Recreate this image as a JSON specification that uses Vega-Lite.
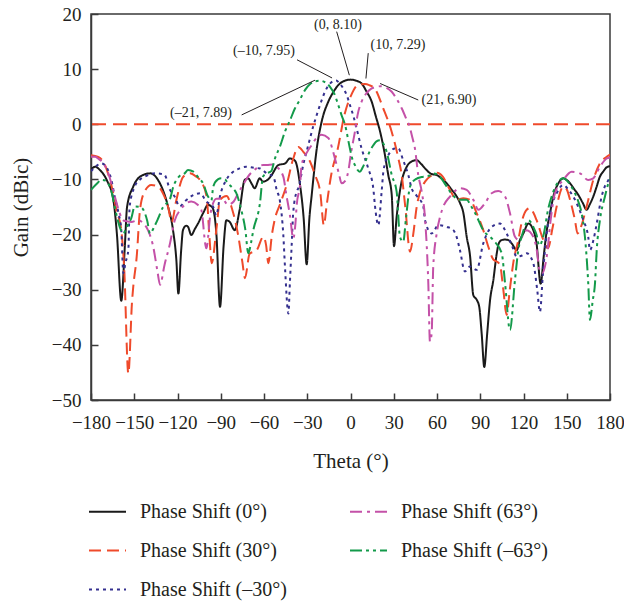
{
  "$schema": "https://vega.github.io/schema/vega-lite/v6.json",
  "width": 519,
  "height": 386,
  "autosize": {"type": "none"},
  "padding": {"left": 91, "top": 14, "right": 14, "bottom": 206},
  "background": "white",
  "config": {
    "view": {"stroke": "#3a3a3a", "strokeWidth": 1.5},
    "axis": {
      "grid": false,
      "domainColor": "#3a3a3a",
      "domainWidth": 1.5,
      "tickColor": "#3a3a3a",
      "tickWidth": 1.5,
      "tickSize": -7,
      "labelFont": "Liberation Serif",
      "labelFontSize": 19,
      "labelColor": "#231f20",
      "titleFont": "Liberation Serif",
      "titleFontSize": 21,
      "titleFontWeight": "normal",
      "titleColor": "#231f20"
    },
    "legend": {
      "labelFont": "Liberation Serif",
      "labelFontSize": 20,
      "labelColor": "#231f20"
    }
  },
  "datasets": {
    "curves": [
      {"s":"0","t":-180,"g":-8.2},{"s":"0","t":-177,"g":-7.7},{"s":"0","t":-173.8,"g":-8.3},{"s":"0","t":-169.1,"g":-10.1},{"s":"0","t":-164.5,"g":-13.7},{"s":"0","t":-162,"g":-20},{"s":"0","t":-159,"g":-32},{"s":"0","t":-156.5,"g":-22},{"s":"0","t":-155,"g":-15},{"s":"0","t":-150.7,"g":-11.3},{"s":"0","t":-146,"g":-9.5},{"s":"0","t":-139,"g":-8.9},{"s":"0","t":-133.5,"g":-10.1},{"s":"0","t":-126.6,"g":-14.9},{"s":"0","t":-123.1,"g":-19.2},{"s":"0","t":-120.8,"g":-24.6},{"s":"0","t":-119.4,"g":-30.7},{"s":"0","t":-117.5,"g":-23},{"s":"0","t":-116.2,"g":-19.2},{"s":"0","t":-114,"g":-18.4},{"s":"0","t":-112.7,"g":-18.6},{"s":"0","t":-110.4,"g":-20.1},{"s":"0","t":-108,"g":-19},{"s":"0","t":-105.8,"g":-18},{"s":"0","t":-102,"g":-16},{"s":"0","t":-98.8,"g":-14.6},{"s":"0","t":-97,"g":-14.8},{"s":"0","t":-95.4,"g":-15.3},{"s":"0","t":-93,"g":-20},{"s":"0","t":-90.5,"g":-33.1},{"s":"0","t":-88,"g":-22},{"s":"0","t":-86.1,"g":-17.4},{"s":"0","t":-83.8,"g":-17.7},{"s":"0","t":-80.3,"g":-19.2},{"s":"0","t":-76.9,"g":-15.5},{"s":"0","t":-73.4,"g":-10.1},{"s":"0","t":-71.1,"g":-9.8},{"s":"0","t":-68.5,"g":-10.8},{"s":"0","t":-66.5,"g":-11.6},{"s":"0","t":-63,"g":-9.8},{"s":"0","t":-60.7,"g":-10.4},{"s":"0","t":-57.2,"g":-10},{"s":"0","t":-54.7,"g":-9.2},{"s":"0","t":-50.1,"g":-7.4},{"s":"0","t":-45.4,"g":-7.1},{"s":"0","t":-42,"g":-6.2},{"s":"0","t":-38.5,"g":-6.6},{"s":"0","t":-35,"g":-11},{"s":"0","t":-32.5,"g":-17},{"s":"0","t":-30.4,"g":-25.4},{"s":"0","t":-28.5,"g":-17},{"s":"0","t":-26.9,"g":-12.8},{"s":"0","t":-23.4,"g":-4.4},{"s":"0","t":-20,"g":0.5},{"s":"0","t":-15.4,"g":4.1},{"s":"0","t":-12,"g":5.8},{"s":"0","t":-8.5,"g":7.1},{"s":"0","t":-4,"g":7.9},{"s":"0","t":0,"g":8.1},{"s":"0","t":4,"g":7.9},{"s":"0","t":7.7,"g":7.4},{"s":"0","t":11,"g":6.0},{"s":"0","t":14.7,"g":4.1},{"s":"0","t":17.5,"g":1.5},{"s":"0","t":20.5,"g":-1.3},{"s":"0","t":23.5,"g":-5},{"s":"0","t":26.2,"g":-9.2},{"s":"0","t":28.6,"g":-12.8},{"s":"0","t":30.2,"g":-22.1},{"s":"0","t":32,"g":-16.8},{"s":"0","t":35,"g":-11},{"s":"0","t":39,"g":-7.7},{"s":"0","t":42,"g":-6.8},{"s":"0","t":45.9,"g":-6.5},{"s":"0","t":49,"g":-7.2},{"s":"0","t":52.8,"g":-8.3},{"s":"0","t":56,"g":-9},{"s":"0","t":59.8,"g":-9.2},{"s":"0","t":63,"g":-9.8},{"s":"0","t":66.7,"g":-10.7},{"s":"0","t":70,"g":-11.8},{"s":"0","t":73.7,"g":-13.1},{"s":"0","t":76,"g":-14.3},{"s":"0","t":78.3,"g":-16.1},{"s":"0","t":80.6,"g":-20.4},{"s":"0","t":82.9,"g":-23.8},{"s":"0","t":85.2,"g":-31},{"s":"0","t":87.5,"g":-31.8},{"s":"0","t":89.3,"g":-33.1},{"s":"0","t":91,"g":-38},{"s":"0","t":92.8,"g":-44},{"s":"0","t":94.8,"g":-38},{"s":"0","t":96.8,"g":-31.9},{"s":"0","t":99.1,"g":-28.2},{"s":"0","t":101.4,"g":-23.5},{"s":"0","t":103,"g":-21.5},{"s":"0","t":104.9,"g":-21},{"s":"0","t":107,"g":-20.9},{"s":"0","t":109.5,"g":-21},{"s":"0","t":111.8,"g":-21.6},{"s":"0","t":115.3,"g":-22.8},{"s":"0","t":117.5,"g":-21},{"s":"0","t":119.9,"g":-19.8},{"s":"0","t":123.4,"g":-18},{"s":"0","t":126.8,"g":-19.2},{"s":"0","t":129,"g":-21.5},{"s":"0","t":131.9,"g":-28.9},{"s":"0","t":134,"g":-24},{"s":"0","t":136,"g":-19.5},{"s":"0","t":138.4,"g":-16.1},{"s":"0","t":141,"g":-12.8},{"s":"0","t":144.2,"g":-10.7},{"s":"0","t":147.6,"g":-9.8},{"s":"0","t":150,"g":-10.1},{"s":"0","t":152.3,"g":-10.7},{"s":"0","t":155,"g":-11.7},{"s":"0","t":158,"g":-12.8},{"s":"0","t":161,"g":-14.2},{"s":"0","t":163.8,"g":-15.5},{"s":"0","t":166,"g":-14.5},{"s":"0","t":168.4,"g":-13.1},{"s":"0","t":170.5,"g":-11.5},{"s":"0","t":173,"g":-9.5},{"s":"0","t":175.5,"g":-8.5},{"s":"0","t":177.7,"g":-7.8},{"s":"0","t":180,"g":-7.6},

      {"s":"30","t":-180,"g":-5.6},{"s":"30","t":-175,"g":-5.9},{"s":"30","t":-171,"g":-7},{"s":"30","t":-168.2,"g":-8.9},{"s":"30","t":-165,"g":-12},{"s":"30","t":-162.4,"g":-15.5},{"s":"30","t":-159,"g":-19.2},{"s":"30","t":-157,"g":-26},{"s":"30","t":-154.1,"g":-45.2},{"s":"30","t":-151.5,"g":-32},{"s":"30","t":-150.7,"g":-29.5},{"s":"30","t":-148.3,"g":-24},{"s":"30","t":-146,"g":-15.5},{"s":"30","t":-142.8,"g":-12.2},{"s":"30","t":-138.2,"g":-11},{"s":"30","t":-133.5,"g":-11.3},{"s":"30","t":-130.1,"g":-12.5},{"s":"30","t":-126.6,"g":-14.9},{"s":"30","t":-124,"g":-17.7},{"s":"30","t":-121,"g":-14},{"s":"30","t":-116,"g":-9.5},{"s":"30","t":-111.3,"g":-8.9},{"s":"30","t":-107,"g":-9.5},{"s":"30","t":-104.4,"g":-10.1},{"s":"30","t":-99.8,"g":-13.1},{"s":"30","t":-97.7,"g":-21},{"s":"30","t":-96.3,"g":-25.2},{"s":"30","t":-93,"g":-19},{"s":"30","t":-90.5,"g":-13.7},{"s":"30","t":-86,"g":-13},{"s":"30","t":-82,"g":-15.5},{"s":"30","t":-78,"g":-20},{"s":"30","t":-75,"g":-25},{"s":"30","t":-73.2,"g":-27.9},{"s":"30","t":-70,"g":-23.5},{"s":"30","t":-65,"g":-22.8},{"s":"30","t":-60.5,"g":-20.4},{"s":"30","t":-58.5,"g":-22},{"s":"30","t":-57,"g":-25.2},{"s":"30","t":-54.5,"g":-20},{"s":"30","t":-52.4,"g":-17.1},{"s":"30","t":-48.9,"g":-14.5},{"s":"30","t":-44.3,"g":-11},{"s":"30","t":-39.7,"g":-6.2},{"s":"30","t":-36.2,"g":-4.1},{"s":"30","t":-32.7,"g":-5},{"s":"30","t":-28,"g":-6.8},{"s":"30","t":-24.6,"g":-9.2},{"s":"30","t":-21,"g":-12.3},{"s":"30","t":-18.5,"g":-18.3},{"s":"30","t":-16.5,"g":-14.6},{"s":"30","t":-13.4,"g":-9.2},{"s":"30","t":-8.8,"g":-4.4},{"s":"30","t":-4.2,"g":1.7},{"s":"30","t":0.5,"g":5.3},{"s":"30","t":5,"g":7.1},{"s":"30","t":10,"g":7.29},{"s":"30","t":13,"g":7.1},{"s":"30","t":16.7,"g":6.5},{"s":"30","t":22.7,"g":2.9},{"s":"30","t":28.5,"g":-1.3},{"s":"30","t":33.2,"g":-6.2},{"s":"30","t":35.5,"g":-9.2},{"s":"30","t":38,"g":-15},{"s":"30","t":41.3,"g":-23.1},{"s":"30","t":43.6,"g":-19.8},{"s":"30","t":45.9,"g":-15},{"s":"30","t":48,"g":-12.5},{"s":"30","t":52,"g":-10.3},{"s":"30","t":56,"g":-9.3},{"s":"30","t":60,"g":-8.8},{"s":"30","t":64,"g":-9.5},{"s":"30","t":69,"g":-11.9},{"s":"30","t":73.7,"g":-13.7},{"s":"30","t":78.3,"g":-13.4},{"s":"30","t":82.9,"g":-13.7},{"s":"30","t":87.5,"g":-16.1},{"s":"30","t":92.1,"g":-19.2},{"s":"30","t":95.6,"g":-22.2},{"s":"30","t":99,"g":-24.5},{"s":"30","t":101.4,"g":-24.9},{"s":"30","t":103.7,"g":-25.5},{"s":"30","t":106,"g":-30},{"s":"30","t":108.3,"g":-34.6},{"s":"30","t":110.5,"g":-30},{"s":"30","t":113,"g":-25},{"s":"30","t":116.4,"g":-21},{"s":"30","t":119,"g":-17.5},{"s":"30","t":122.2,"g":-15.5},{"s":"30","t":124.5,"g":-15.2},{"s":"30","t":126.8,"g":-16},{"s":"30","t":129.1,"g":-17.4},{"s":"30","t":133.8,"g":-21},{"s":"30","t":137,"g":-22.5},{"s":"30","t":140,"g":-19},{"s":"30","t":143,"g":-14.9},{"s":"30","t":147.6,"g":-11.3},{"s":"30","t":150,"g":-11.8},{"s":"30","t":152.3,"g":-13.7},{"s":"30","t":155.7,"g":-17.4},{"s":"30","t":157.5,"g":-19.8},{"s":"30","t":160,"g":-18.5},{"s":"30","t":163.8,"g":-14.9},{"s":"30","t":168.4,"g":-10.1},{"s":"30","t":173,"g":-7.1},{"s":"30","t":177.7,"g":-5.9},{"s":"30","t":180,"g":-5.5},

      {"s":"-30","t":-180,"g":-8.5},{"s":"-30","t":-176,"g":-7.5},{"s":"-30","t":-172.9,"g":-7.1},{"s":"-30","t":-170,"g":-7.5},{"s":"-30","t":-168.2,"g":-8.3},{"s":"-30","t":-165.5,"g":-10.5},{"s":"-30","t":-163.6,"g":-13.1},{"s":"-30","t":-161,"g":-16},{"s":"-30","t":-159,"g":-19.2},{"s":"-30","t":-157.6,"g":-27},{"s":"-30","t":-156,"g":-25},{"s":"-30","t":-154.1,"g":-22.8},{"s":"-30","t":-153.2,"g":-14.9},{"s":"-30","t":-149.7,"g":-11.3},{"s":"-30","t":-146,"g":-10},{"s":"-30","t":-142.8,"g":-9.5},{"s":"-30","t":-135.8,"g":-8.9},{"s":"-30","t":-131,"g":-9},{"s":"-30","t":-128.9,"g":-9.2},{"s":"-30","t":-125.2,"g":-11.9},{"s":"-30","t":-122,"g":-13.1},{"s":"-30","t":-118.5,"g":-14.9},{"s":"-30","t":-115,"g":-14},{"s":"-30","t":-110,"g":-13},{"s":"-30","t":-104.4,"g":-12.5},{"s":"-30","t":-100,"g":-14},{"s":"-30","t":-95.4,"g":-14.9},{"s":"-30","t":-93.1,"g":-16.5},{"s":"-30","t":-90.5,"g":-13},{"s":"-30","t":-86,"g":-10},{"s":"-30","t":-82.7,"g":-8.9},{"s":"-30","t":-76.9,"g":-8},{"s":"-30","t":-72.3,"g":-7.7},{"s":"-30","t":-67,"g":-7.9},{"s":"-30","t":-62.8,"g":-8},{"s":"-30","t":-58.1,"g":-8.9},{"s":"-30","t":-53.5,"g":-9.5},{"s":"-30","t":-51.2,"g":-11.9},{"s":"-30","t":-48.9,"g":-14},{"s":"-30","t":-46.6,"g":-20.1},{"s":"-30","t":-45.4,"g":-26.1},{"s":"-30","t":-43.1,"g":-34.3},{"s":"-30","t":-42,"g":-28.5},{"s":"-30","t":-40.8,"g":-21.9},{"s":"-30","t":-39.7,"g":-15.9},{"s":"-30","t":-37.3,"g":-12.2},{"s":"-30","t":-36.2,"g":-11.6},{"s":"-30","t":-32.5,"g":-7},{"s":"-30","t":-29.3,"g":-3.8},{"s":"-30","t":-26,"g":-0.5},{"s":"-30","t":-23.4,"g":1.7},{"s":"-30","t":-20.5,"g":4},{"s":"-30","t":-17.7,"g":5.9},{"s":"-30","t":-14.5,"g":7.3},{"s":"-30","t":-10,"g":7.95},{"s":"-30","t":-7.5,"g":7.4},{"s":"-30","t":-5,"g":6.5},{"s":"-30","t":-2.5,"g":5.2},{"s":"-30","t":-0.4,"g":3.5},{"s":"-30","t":2,"g":1.5},{"s":"-30","t":4.2,"g":-0.7},{"s":"-30","t":7.7,"g":-4.4},{"s":"-30","t":12.3,"g":-8},{"s":"-30","t":15.8,"g":-11.6},{"s":"-30","t":16.9,"g":-14.6},{"s":"-30","t":19.3,"g":-18.3},{"s":"-30","t":21.6,"g":-12.2},{"s":"-30","t":22.8,"g":-8.6},{"s":"-30","t":26.2,"g":-5.6},{"s":"-30","t":30.9,"g":-4.4},{"s":"-30","t":33.2,"g":-4.4},{"s":"-30","t":36.5,"g":-6.5},{"s":"-30","t":40.1,"g":-9.2},{"s":"-30","t":42.4,"g":-11.6},{"s":"-30","t":46,"g":-13},{"s":"-30","t":50.5,"g":-14.9},{"s":"-30","t":51.7,"g":-17.4},{"s":"-30","t":56.3,"g":-19.8},{"s":"-30","t":61,"g":-18.3},{"s":"-30","t":66.7,"g":-18.6},{"s":"-30","t":71.3,"g":-19.2},{"s":"-30","t":73.7,"g":-20.5},{"s":"-30","t":75.9,"g":-22.8},{"s":"-30","t":79.4,"g":-26.7},{"s":"-30","t":82.9,"g":-25.8},{"s":"-30","t":87.5,"g":-26.4},{"s":"-30","t":92.1,"g":-21.6},{"s":"-30","t":97.9,"g":-18.6},{"s":"-30","t":103.7,"g":-18},{"s":"-30","t":108.3,"g":-19.8},{"s":"-30","t":112,"g":-22},{"s":"-30","t":115.3,"g":-24},{"s":"-30","t":119,"g":-23.8},{"s":"-30","t":122.2,"g":-23.4},{"s":"-30","t":126.8,"g":-25.2},{"s":"-30","t":129.5,"g":-30},{"s":"-30","t":131.4,"g":-34},{"s":"-30","t":133.5,"g":-27},{"s":"-30","t":136,"g":-20},{"s":"-30","t":139.5,"g":-14.9},{"s":"-30","t":143,"g":-12.5},{"s":"-30","t":147.6,"g":-11},{"s":"-30","t":151,"g":-11.8},{"s":"-30","t":154.5,"g":-13.1},{"s":"-30","t":158,"g":-15},{"s":"-30","t":161.5,"g":-17.4},{"s":"-30","t":164.9,"g":-20.4},{"s":"-30","t":166.1,"g":-22.8},{"s":"-30","t":168.5,"g":-21},{"s":"-30","t":170.8,"g":-18},{"s":"-30","t":174.2,"g":-13.1},{"s":"-30","t":176.5,"g":-11.2},{"s":"-30","t":178.9,"g":-10.1},{"s":"-30","t":180,"g":-9.5},

      {"s":"63","t":-180,"g":-5.9},{"s":"63","t":-177,"g":-5.9},{"s":"63","t":-175.1,"g":-6.2},{"s":"63","t":-172,"g":-6.9},{"s":"63","t":-169.4,"g":-8},{"s":"63","t":-167,"g":-9.7},{"s":"63","t":-164.7,"g":-11.9},{"s":"63","t":-162,"g":-14.5},{"s":"63","t":-160.1,"g":-16.1},{"s":"63","t":-157,"g":-17.5},{"s":"63","t":-152,"g":-17.7},{"s":"63","t":-147.4,"g":-17.4},{"s":"63","t":-143.5,"g":-18},{"s":"63","t":-140.5,"g":-19.2},{"s":"63","t":-137,"g":-22},{"s":"63","t":-134,"g":-26.5},{"s":"63","t":-132.1,"g":-29.1},{"s":"63","t":-129,"g":-25.5},{"s":"63","t":-125.2,"g":-21.6},{"s":"63","t":-122,"g":-17.5},{"s":"63","t":-118,"g":-15.5},{"s":"63","t":-115,"g":-14.6},{"s":"63","t":-110.4,"g":-14},{"s":"63","t":-106,"g":-14.6},{"s":"63","t":-103.5,"g":-15.5},{"s":"63","t":-100,"g":-22.5},{"s":"63","t":-97,"g":-16},{"s":"63","t":-93,"g":-13.5},{"s":"63","t":-89,"g":-13.5},{"s":"63","t":-85,"g":-14.6},{"s":"63","t":-81,"g":-14},{"s":"63","t":-78,"g":-12.5},{"s":"63","t":-74.5,"g":-11},{"s":"63","t":-71.1,"g":-9.5},{"s":"63","t":-65.3,"g":-8},{"s":"63","t":-60.7,"g":-7.4},{"s":"63","t":-58.1,"g":-7.4},{"s":"63","t":-54,"g":-7.3},{"s":"63","t":-51.2,"g":-7.7},{"s":"63","t":-46.6,"g":-9.5},{"s":"63","t":-44.5,"g":-12.8},{"s":"63","t":-42,"g":-16.5},{"s":"63","t":-39.7,"g":-20.7},{"s":"63","t":-38.2,"g":-18},{"s":"63","t":-37.3,"g":-14.6},{"s":"63","t":-35,"g":-11},{"s":"63","t":-33.9,"g":-7.4},{"s":"63","t":-30,"g":-5},{"s":"63","t":-27,"g":-3.8},{"s":"63","t":-23,"g":-2.3},{"s":"63","t":-20,"g":-1.9},{"s":"63","t":-15.4,"g":-2.5},{"s":"63","t":-10.8,"g":-6.2},{"s":"63","t":-8,"g":-9},{"s":"63","t":-6.2,"g":-10.7},{"s":"63","t":-3.5,"g":-10.2},{"s":"63","t":-1.6,"g":-8.6},{"s":"63","t":0.5,"g":-5},{"s":"63","t":3.1,"g":-1.3},{"s":"63","t":5,"g":1.8},{"s":"63","t":7.7,"g":4.1},{"s":"63","t":11,"g":5.6},{"s":"63","t":14.7,"g":6.5},{"s":"63","t":18,"g":6.8},{"s":"63","t":21,"g":6.9},{"s":"63","t":25,"g":6.6},{"s":"63","t":28.6,"g":5.9},{"s":"63","t":32,"g":4.6},{"s":"63","t":35.5,"g":2.9},{"s":"63","t":38.5,"g":1.1},{"s":"63","t":41.3,"g":-0.7},{"s":"63","t":43,"g":-2.5},{"s":"63","t":44.7,"g":-4.4},{"s":"63","t":47,"g":-9.2},{"s":"63","t":49.4,"g":-12.2},{"s":"63","t":51.7,"g":-17.1},{"s":"63","t":54,"g":-29.1},{"s":"63","t":55.1,"g":-39.4},{"s":"63","t":56.3,"g":-37.9},{"s":"63","t":57.4,"g":-25.8},{"s":"63","t":59.8,"g":-19.8},{"s":"63","t":62.1,"g":-16.8},{"s":"63","t":64.4,"g":-14.9},{"s":"63","t":69,"g":-13.1},{"s":"63","t":72,"g":-12.2},{"s":"63","t":75.9,"g":-11.6},{"s":"63","t":80.6,"g":-11.9},{"s":"63","t":85.2,"g":-13.7},{"s":"63","t":88.7,"g":-15.5},{"s":"63","t":93.3,"g":-14.3},{"s":"63","t":97.9,"g":-12.5},{"s":"63","t":102.5,"g":-12.1},{"s":"63","t":107.2,"g":-13.1},{"s":"63","t":110.6,"g":-16.1},{"s":"63","t":114.1,"g":-20.4},{"s":"63","t":117,"g":-21},{"s":"63","t":122.2,"g":-19.2},{"s":"63","t":126.8,"g":-20.4},{"s":"63","t":129,"g":-22.5},{"s":"63","t":131.4,"g":-26.7},{"s":"63","t":133,"g":-27},{"s":"63","t":136.1,"g":-24},{"s":"63","t":139,"g":-17},{"s":"63","t":141.8,"g":-12.5},{"s":"63","t":147.6,"g":-10.1},{"s":"63","t":153.4,"g":-8.6},{"s":"63","t":159.2,"g":-8.9},{"s":"63","t":164.9,"g":-10.1},{"s":"63","t":168.4,"g":-9.8},{"s":"63","t":173,"g":-7.7},{"s":"63","t":177.7,"g":-6.2},{"s":"63","t":180,"g":-6},

      {"s":"-63","t":-180,"g":-11.9},{"s":"-63","t":-176,"g":-10.8},{"s":"-63","t":-172.9,"g":-10.1},{"s":"-63","t":-170,"g":-10.2},{"s":"-63","t":-168.2,"g":-10.7},{"s":"-63","t":-165.5,"g":-12.5},{"s":"-63","t":-163.6,"g":-14.9},{"s":"-63","t":-160.1,"g":-18.6},{"s":"-63","t":-157.6,"g":-19.8},{"s":"-63","t":-155,"g":-18.5},{"s":"-63","t":-152,"g":-17},{"s":"-63","t":-149.7,"g":-14.9},{"s":"-63","t":-146,"g":-15},{"s":"-63","t":-143.7,"g":-15.5},{"s":"-63","t":-141,"g":-17.5},{"s":"-63","t":-139.1,"g":-19.8},{"s":"-63","t":-136,"g":-18.5},{"s":"-63","t":-133.3,"g":-17},{"s":"-63","t":-130,"g":-15},{"s":"-63","t":-127.5,"g":-14.3},{"s":"-63","t":-125.4,"g":-13.7},{"s":"-63","t":-122.9,"g":-11.3},{"s":"-63","t":-119,"g":-9.5},{"s":"-63","t":-115,"g":-8.9},{"s":"-63","t":-112.7,"g":-8.3},{"s":"-63","t":-109,"g":-8.6},{"s":"-63","t":-106,"g":-9.5},{"s":"-63","t":-102.3,"g":-10.7},{"s":"-63","t":-98.8,"g":-13.1},{"s":"-63","t":-96.5,"g":-13.8},{"s":"-63","t":-95.2,"g":-11.3},{"s":"-63","t":-92,"g":-10},{"s":"-63","t":-89.6,"g":-9.8},{"s":"-63","t":-87,"g":-10},{"s":"-63","t":-85,"g":-10.7},{"s":"-63","t":-82,"g":-11.5},{"s":"-63","t":-79.2,"g":-12.5},{"s":"-63","t":-75.8,"g":-15.5},{"s":"-63","t":-73,"g":-19},{"s":"-63","t":-70.9,"g":-23.4},{"s":"-63","t":-69,"g":-21.5},{"s":"-63","t":-67.4,"g":-19.2},{"s":"-63","t":-62.8,"g":-14.3},{"s":"-63","t":-60.7,"g":-9.5},{"s":"-63","t":-58.1,"g":-8.9},{"s":"-63","t":-55,"g":-8.5},{"s":"-63","t":-52.4,"g":-6.2},{"s":"-63","t":-48.9,"g":-4},{"s":"-63","t":-45.4,"g":-1.3},{"s":"-63","t":-42,"g":0.7},{"s":"-63","t":-38.5,"g":2.9},{"s":"-63","t":-35,"g":4.5},{"s":"-63","t":-31.6,"g":6.2},{"s":"-63","t":-28,"g":7.3},{"s":"-63","t":-24.6,"g":7.8},{"s":"-63","t":-21,"g":7.89},{"s":"-63","t":-17,"g":7.5},{"s":"-63","t":-14.2,"g":6.8},{"s":"-63","t":-11,"g":5.4},{"s":"-63","t":-8.5,"g":3.5},{"s":"-63","t":-6,"g":1.5},{"s":"-63","t":-3.8,"g":-0.1},{"s":"-63","t":-0.4,"g":-4.4},{"s":"-63","t":1.5,"g":-6.5},{"s":"-63","t":3.1,"g":-7.4},{"s":"-63","t":5,"g":-8.3},{"s":"-63","t":6.5,"g":-8.6},{"s":"-63","t":8.5,"g":-7.8},{"s":"-63","t":11.2,"g":-6.2},{"s":"-63","t":13.5,"g":-4.8},{"s":"-63","t":15.8,"g":-3.8},{"s":"-63","t":18,"g":-3.1},{"s":"-63","t":20.5,"g":-2.9},{"s":"-63","t":23,"g":-3.6},{"s":"-63","t":25.1,"g":-5},{"s":"-63","t":28.6,"g":-9.2},{"s":"-63","t":32,"g":-12.2},{"s":"-63","t":34.3,"g":-20.4},{"s":"-63","t":36.6,"g":-21.3},{"s":"-63","t":38.5,"g":-17},{"s":"-63","t":41.3,"g":-11.3},{"s":"-63","t":45,"g":-10},{"s":"-63","t":50.5,"g":-9.5},{"s":"-63","t":55,"g":-9.3},{"s":"-63","t":57.4,"g":-8.9},{"s":"-63","t":62.1,"g":-9.5},{"s":"-63","t":66,"g":-11},{"s":"-63","t":69,"g":-12.2},{"s":"-63","t":75.9,"g":-13.7},{"s":"-63","t":80.6,"g":-13.7},{"s":"-63","t":83.5,"g":-14.8},{"s":"-63","t":86.4,"g":-16.1},{"s":"-63","t":92.1,"g":-19.2},{"s":"-63","t":99,"g":-21},{"s":"-63","t":104.9,"g":-23.4},{"s":"-63","t":107.2,"g":-28.8},{"s":"-63","t":110.6,"g":-37.3},{"s":"-63","t":114.1,"g":-28.2},{"s":"-63","t":116.4,"g":-22.8},{"s":"-63","t":118.7,"g":-20.4},{"s":"-63","t":121,"g":-18.5},{"s":"-63","t":123.4,"g":-17.4},{"s":"-63","t":126.8,"g":-18.6},{"s":"-63","t":129,"g":-20},{"s":"-63","t":131,"g":-22},{"s":"-63","t":134,"g":-20},{"s":"-63","t":137,"g":-15.5},{"s":"-63","t":139.5,"g":-13.1},{"s":"-63","t":144.2,"g":-10.4},{"s":"-63","t":147.6,"g":-9.8},{"s":"-63","t":151,"g":-10.5},{"s":"-63","t":154.5,"g":-11.9},{"s":"-63","t":158,"g":-14},{"s":"-63","t":160.3,"g":-16.1},{"s":"-63","t":162.6,"g":-20.4},{"s":"-63","t":164.9,"g":-28.8},{"s":"-63","t":166.1,"g":-35.5},{"s":"-63","t":168,"g":-32},{"s":"-63","t":169.6,"g":-28.8},{"s":"-63","t":170.8,"g":-22.8},{"s":"-63","t":173,"g":-17.4},{"s":"-63","t":176.5,"g":-13.1},{"s":"-63","t":178.9,"g":-10.7},{"s":"-63","t":180,"g":-10}
    ],
    "notes": [
      {"label":"(0, 8.10)","tx":-8.7,"ty":18.0,"x1":-9.6,"y1":16.8,"x2":-0.8,"y2":8.9},
      {"label":"(10, 7.29)","tx":32.9,"ty":14.4,"x1":12.3,"y1":12.9,"x2":10.7,"y2":8.3},
      {"label":"(21, 6.90)","tx":68.3,"ty":4.4,"x1":47,"y1":4.4,"x2":20.5,"y2":7.4},
      {"label":"(–10, 7.95)","tx":-60,"ty":13.3,"x1":-37.1,"y1":11.7,"x2":-12.8,"y2":8.4},
      {"label":"(–21, 7.89)","tx":-103.7,"ty":2.0,"x1":-75.5,"y1":1.7,"x2":-24.6,"y2":8.0}
    ]
  },
  "layer": [
    {
      "data": {"values": [{"g": 0}]},
      "mark": {"type": "rule", "color": "#ef4a2b", "strokeWidth": 2, "strokeDash": [14, 7]},
      "encoding": {"y": {"field": "g", "type": "quantitative", "scale": {"domain": [-50, 20]}}}
    },
    {
      "data": {"name": "curves"},
      "mark": {"type": "line", "strokeWidth": 2, "interpolate": "monotone", "clip": true},
      "encoding": {
        "x": {
          "field": "t", "type": "quantitative",
          "scale": {"domain": [-180, 180], "nice": false},
          "axis": {"title": "Theta (°)", "values": [-180,-150,-120,-90,-60,-30,0,30,60,90,120,150,180], "labelPadding": 20, "titlePadding": 18, "labelFlush": false}
        },
        "y": {
          "field": "g", "type": "quantitative",
          "scale": {"domain": [-50, 20], "nice": false},
          "axis": {"title": "Gain (dBic)", "values": [-50,-40,-30,-20,-10,0,10,20], "labelPadding": 17, "titlePadding": 20}
        },
        "color": {
          "field": "s", "type": "nominal",
          "scale": {"domain": ["0","30","-30","63","-63"], "range": ["#1a1a1a","#ef4a2b","#35308f","#c451a8","#139a4a"]},
          "legend": {
            "title": null, "orient": "none", "legendX": -3, "legendY": 478, "columns": 2,
            "columnPadding": 59, "rowPadding": 9, "symbolType": "stroke", "symbolSize": 1369, "symbolStrokeWidth": 2,
            "labelOffset": 13,
            "labelExpr": "'Phase Shift (' + replace(datum.label, '-', '–') + '°)'"
          }
        },
        "strokeDash": {
          "field": "s", "type": "nominal",
          "scale": {"domain": ["0","30","-30","63","-63"], "range": [[1,0],[12,6],[3,4],[12,5,3,5],[12,4,3,4,3,4]]},
          "legend": {
            "title": null, "orient": "none", "legendX": -3, "legendY": 478, "columns": 2,
            "columnPadding": 59, "rowPadding": 9, "symbolType": "stroke", "symbolSize": 1369, "symbolStrokeWidth": 2,
            "labelOffset": 13,
            "labelExpr": "'Phase Shift (' + replace(datum.label, '-', '–') + '°)'"
          }
        }
      }
    },
    {
      "data": {"name": "notes"},
      "mark": {"type": "rule", "color": "#231f20", "strokeWidth": 1},
      "encoding": {
        "x": {"field": "x1", "type": "quantitative"},
        "y": {"field": "y1", "type": "quantitative"},
        "x2": {"field": "x2"},
        "y2": {"field": "y2"}
      }
    },
    {
      "data": {"name": "notes"},
      "mark": {"type": "text", "font": "Liberation Serif", "fontSize": 14, "color": "#231f20", "align": "center", "baseline": "middle"},
      "encoding": {
        "x": {"field": "tx", "type": "quantitative"},
        "y": {"field": "ty", "type": "quantitative"},
        "text": {"field": "label"}
      }
    }
  ]
}
